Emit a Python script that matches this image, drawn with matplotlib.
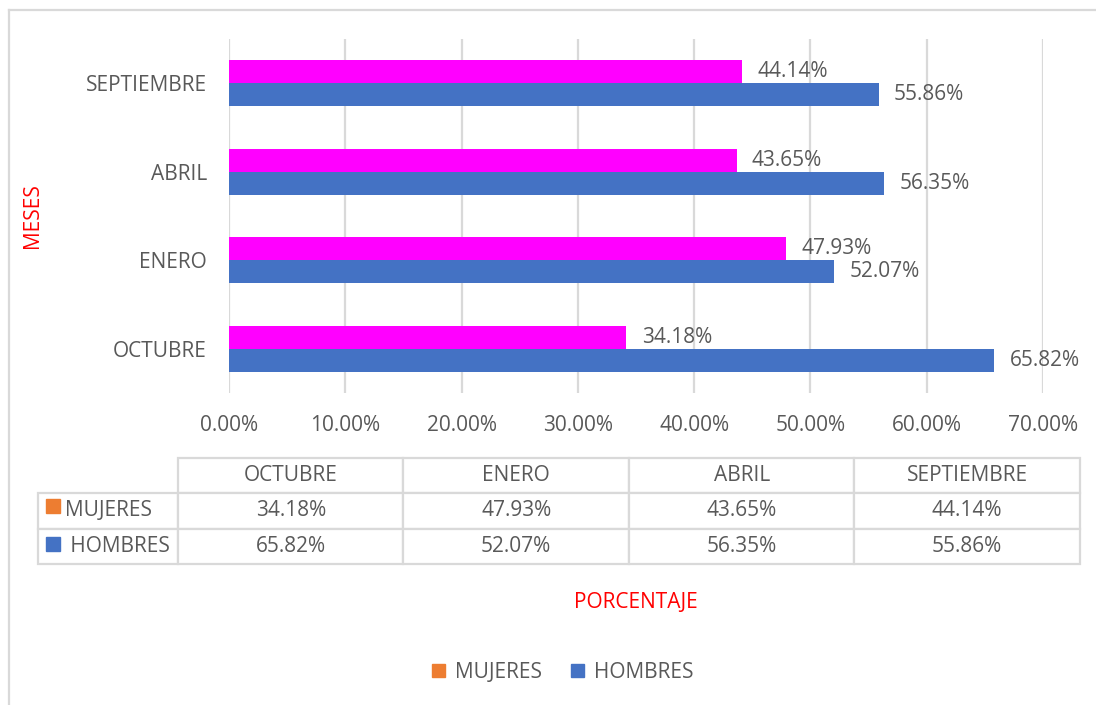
import numpy as np
import matplotlib
matplotlib.use('Agg')
import matplotlib.pyplot as plt
from matplotlib.patches import Patch, Rectangle
from matplotlib.lines import Line2D

meses = ['OCTUBRE', 'ENERO', 'ABRIL', 'SEPTIEMBRE']
mujeres = [0.3418, 0.4793, 0.4365, 0.4414]
hombres = [0.6582, 0.5207, 0.5635, 0.5586]
x_ticks = [0.0, 0.1, 0.2, 0.3, 0.4, 0.5, 0.6, 0.7]

MAGENTA = '#FF00FF'
AZUL = '#4472C4'
NARANJA = '#ED7D31'
GRIS = '#595959'
LINEA = '#D9D9D9'
FS = 15

plt.rcParams['font.family'] = ['Open Sans', 'DejaVu Sans']

fig = plt.figure(figsize=(10.96, 7.05), dpi=100)
W, H = 1096, 705
# plot area in pixels: x 229..1043, y 39..393
ax = fig.add_axes([229 / W, 1 - 393 / H, 814 / W, 354 / H])

y = np.arange(len(meses))
h = 0.26
b_muj = ax.barh(y + h / 2, mujeres, height=h, color=MAGENTA, label='MUJERES', zorder=3)
b_hom = ax.barh(y - h / 2, hombres, height=h, color=AZUL, label='HOMBRES', zorder=3)

ax.bar_label(b_muj, fmt='{:.2%}', padding=11, fontsize=FS, color=GRIS)
ax.bar_label(b_hom, fmt='{:.2%}', padding=11, fontsize=FS, color=GRIS)

ax.set_xlim(0, 0.7)
ax.set_ylim(-0.5, len(meses) - 0.5)
ax.set_xticks(x_ticks)
ax.set_xticklabels([f'{v:.2%}' for v in x_ticks])
ax.set_yticks(y)
ax.set_yticklabels(meses)
ax.tick_params(axis='both', length=0, labelsize=FS, labelcolor=GRIS)
ax.tick_params(axis='y', pad=16)
ax.tick_params(axis='x', pad=16)
ax.grid(axis='x', color=LINEA, linewidth=1.6, zorder=0)
for s in ax.spines.values():
    s.set_visible(False)

ax.set_xlabel('PORCENTAJE', color='#FF0000', fontsize=FS, va='center')
ax.xaxis.set_label_coords(0.5, (393 - 602) / 354)
ax.set_ylabel('MESES', color='#FF0000', fontsize=FS, va='center')
ax.yaxis.set_label_coords((33 - 229) / 814, 0.5)

# data table under the chart
filas = [[''] + meses,
         ['MUJERES'] + [f'{v:.2%}' for v in mujeres],
         [' HOMBRES'] + [f'{v:.2%}' for v in hombres]]
col_w = [140 / 1042] + [225.5 / 1042] * 4
tabla = ax.table(cellText=filas, colWidths=col_w, cellLoc='center',
                 bbox=[(38 - 229) / 814, (393 - 564) / 354, 1042 / 814, 106 / 354])
tabla.auto_set_font_size(False)
tabla.set_fontsize(FS)
for (r, c), cell in tabla.get_celld().items():
    cell.set_edgecolor(LINEA)
    cell.set_linewidth(1.6)
    cell.get_text().set_color(GRIS)
    if r == 0 and c == 0:
        cell.visible_edges = ''
    if c == 0 and r > 0:
        cell.get_text().set_ha('left')
        cell._loc = 'left'
        cell.PAD = 0.19

# legend keys inside the row label cells
for col, yy in [(NARANJA, 499), (AZUL, 537)]:
    fig.add_artist(Rectangle((46 / W, 1 - (yy + 14) / H), 14 / W, 14 / H,
                             transform=fig.transFigure, color=col))

fig.legend(handles=[Patch(color=NARANJA, label='MUJERES'), Patch(color=AZUL, label='HOMBRES')],
           loc='center', bbox_to_anchor=(563 / W, 1 - 672 / H), ncol=2, frameon=False,
           fontsize=FS, labelcolor=GRIS, handlelength=0.6, handleheight=0.6,
           handletextpad=0.5, columnspacing=1.4)

# chart border
fig.add_artist(Line2D([9 / W, 1], [1 - 10 / H, 1 - 10 / H], color=LINEA, linewidth=1.6))
fig.add_artist(Line2D([9 / W, 9 / W], [1 - 10 / H, 0], color=LINEA, linewidth=1.6))

fig.savefig('out.png', dpi=100)
